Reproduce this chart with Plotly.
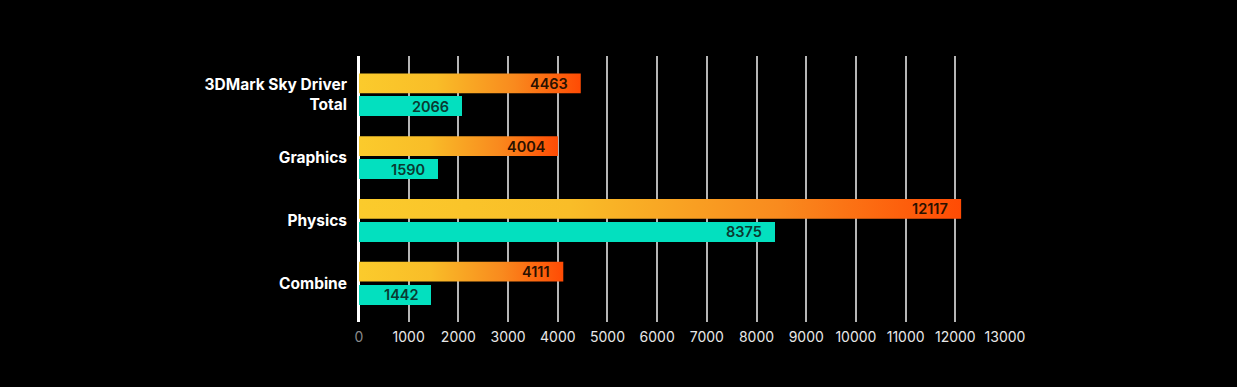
import plotly.graph_objects as go

categories = ["3DMark Sky Driver<br>Total", "Graphics", "Physics", "Combine"]
new_scores = [4463, 4004, 12117, 4111]
old_scores = [2066, 1590, 8375, 1442]
x_ticks = list(range(0, 13001, 1000))
x_tick_labels = ['<span style="color:#8a8a8a">0</span>'] + [str(v) for v in x_ticks[1:]]

BAR_H = 0.317
OFF = 0.183
FONT = "Inter"

fig = go.Figure()

grad = [[0, "#FBCB2C"], [0.35, "#F9BD28"], [0.7, "#F98A1E"], [1, "#FF4B04"]]
for i, v in enumerate(new_scores):
    yc = i - OFF
    fig.add_trace(go.Scatter(
        x=[0, v, v, 0, 0],
        y=[yc - BAR_H / 2, yc - BAR_H / 2, yc + BAR_H / 2, yc + BAR_H / 2, yc - BAR_H / 2],
        mode="lines", fill="toself", line=dict(width=0),
        fillgradient=dict(type="horizontal", colorscale=grad),
        showlegend=False, hoverinfo="skip",
    ))

fig.add_trace(go.Bar(
    x=old_scores, y=[i + OFF for i in range(len(old_scores))],
    orientation="h", width=BAR_H, base=0,
    marker=dict(color="#03E0BF", line=dict(width=0)),
    showlegend=False, hoverinfo="skip",
))

annotations = []
for i, v in enumerate(new_scores):
    annotations.append(dict(x=v, y=i - OFF, text=str(v), xanchor="right", yanchor="middle",
                            xshift=-11, showarrow=False,
                            font=dict(family=FONT, size=14.5, color="#2a1100", weight=600)))
for i, v in enumerate(old_scores):
    annotations.append(dict(x=v, y=i + OFF, text=str(v), xanchor="right", yanchor="middle",
                            xshift=-11, showarrow=False,
                            font=dict(family=FONT, size=14.5, color="#0a3a31", weight=600)))

fig.update_layout(
    width=1237, height=387,
    paper_bgcolor="#000000", plot_bgcolor="#000000",
    margin=dict(l=358, r=231, t=56, b=65),
    annotations=annotations,
    bargap=0,
    xaxis=dict(
        range=[-20, 13020], tickvals=x_ticks, ticktext=x_tick_labels,
        showgrid=True, gridcolor="#b5b5b5", gridwidth=1.5,
        zeroline=True, zerolinecolor="#ffffff", zerolinewidth=2.5,
        showline=False, ticks="", ticklabelstandoff=5,
        tickfont=dict(family=FONT, size=14, color="#e8e8e8"),
        fixedrange=True,
    ),
    yaxis=dict(
        range=[3.62, -0.62], tickvals=list(range(len(categories))), ticktext=categories,
        showgrid=False, zeroline=False, showline=False, ticks="",
        ticklabelstandoff=10,
        tickfont=dict(family=FONT, size=15.5, color="#ffffff", weight=700),
        fixedrange=True,
    ),
)

fig.write_html(
    "out.html",
    config={"displayModeBar": False},
    post_script="document.body.style.margin='0';document.body.style.background='#000';"
                "document.body.style.overflow='hidden';",
)
